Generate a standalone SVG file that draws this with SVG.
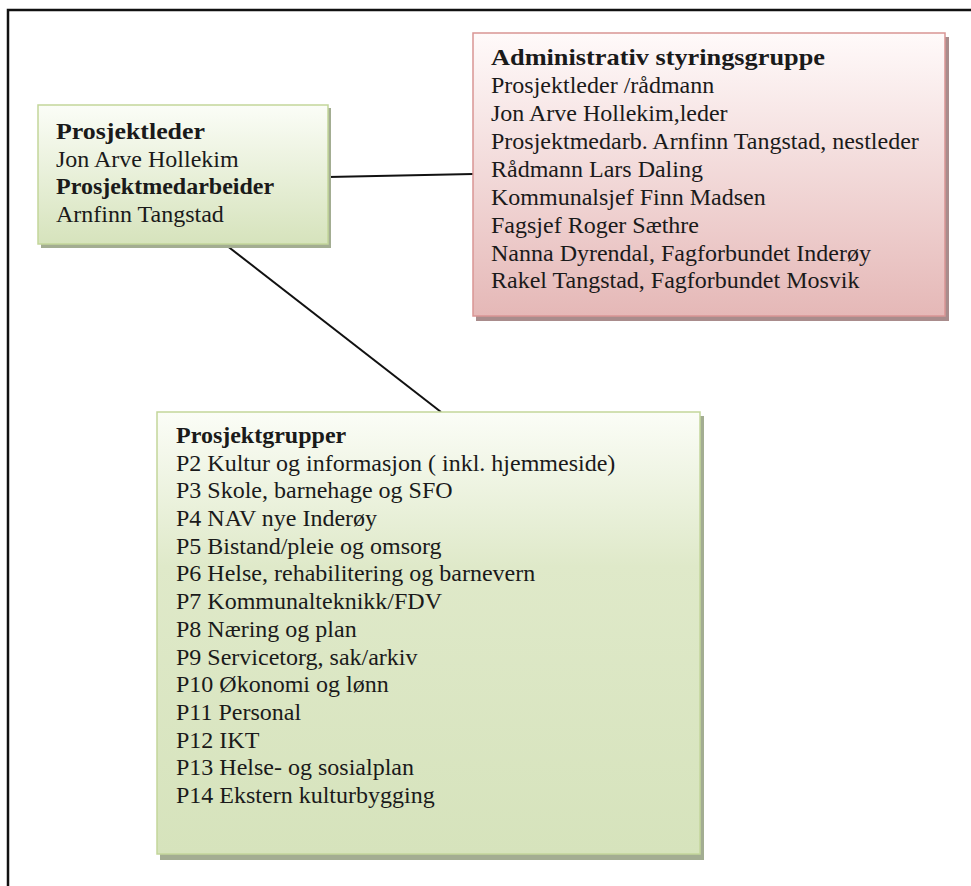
<svg xmlns="http://www.w3.org/2000/svg" width="971" height="886" viewBox="0 0 971 886">
<defs>
<linearGradient id="gGreen" x1="0" y1="0" x2="0" y2="1">
<stop offset="0" stop-color="#fbfdf7"/>
<stop offset="1" stop-color="#d6e3bc"/>
</linearGradient>
<linearGradient id="gGreen2" x1="0" y1="0" x2="0" y2="1">
<stop offset="0" stop-color="#fbfdf7"/>
<stop offset="0.35" stop-color="#dfe9c9"/>
<stop offset="1" stop-color="#d6e3bc"/>
</linearGradient>
<linearGradient id="gRed" x1="0" y1="0" x2="0" y2="1">
<stop offset="0" stop-color="#fffafa"/>
<stop offset="1" stop-color="#e5b8b7"/>
</linearGradient>
</defs>
<style>
text{font-family:"Liberation Serif","Times New Roman",serif;font-size:24px;fill:#1a1a1a}
.b{font-weight:bold}
.frame{stroke:#111;stroke-width:2.5;fill:none}
.conn{stroke:#111;stroke-width:2;fill:none}
.gbox{stroke:#c3d69b;stroke-width:1.5}
.rbox{stroke:#d99594;stroke-width:1.5}
.gsh{fill:#a3ad92}
.rsh{fill:#a98c8c}
</style>
<rect width="971" height="886" fill="#ffffff"/>
<path class="frame" d="M8,886 V10 H971"/>
<g id="connectors">
<line class="conn" x1="226" y1="245" x2="441" y2="412"/>
<line class="conn" x1="328" y1="177" x2="473" y2="174"/>
</g>
<g id="node-prosjektleder">
<rect class="gsh" x="41" y="108" width="290" height="140"/>
<rect class="gbox" x="38" y="105" width="290" height="139" fill="url(#gGreen)"/>
<text x="56" y="139" class="b" textLength="149" lengthAdjust="spacingAndGlyphs">Prosjektleder</text>
<text x="56" y="167">Jon Arve Hollekim</text>
<text x="56" y="194" class="b">Prosjektmedarbeider</text>
<text x="56" y="222">Arnfinn Tangstad</text>
</g>
<g id="node-styringsgruppe">
<rect class="rsh" x="476" y="37" width="473" height="284"/>
<rect class="rbox" x="473" y="33" width="472" height="283" fill="url(#gRed)"/>
<text x="491" y="65" class="b" textLength="334" lengthAdjust="spacingAndGlyphs">Administrativ styringsgruppe</text>
<text x="491" y="93">Prosjektleder /rådmann</text>
<text x="491" y="121">Jon Arve Hollekim,leder</text>
<text x="491" y="149">Prosjektmedarb. Arnfinn Tangstad, nestleder</text>
<text x="491" y="177">Rådmann Lars Daling</text>
<text x="491" y="205">Kommunalsjef  Finn Madsen</text>
<text x="491" y="233">Fagsjef Roger Sæthre</text>
<text x="491" y="261">Nanna Dyrendal, Fagforbundet Inderøy</text>
<text x="491" y="288">Rakel Tangstad, Fagforbundet Mosvik</text>
</g>
<g id="node-prosjektgrupper">
<rect class="gsh" x="160" y="416" width="544" height="444"/>
<rect class="gbox" x="157" y="412" width="543" height="442" fill="url(#gGreen2)"/>
<text x="176" y="443" class="b">Prosjektgrupper</text>
<text x="176" y="471">P2 Kultur og informasjon ( inkl. hjemmeside)</text>
<text x="176" y="498">P3 Skole, barnehage og SFO</text>
<text x="176" y="526">P4 NAV nye Inderøy</text>
<text x="176" y="554">P5 Bistand/pleie og omsorg</text>
<text x="176" y="581">P6 Helse, rehabilitering og barnevern</text>
<text x="176" y="609">P7 Kommunalteknikk/FDV</text>
<text x="176" y="637">P8 Næring og plan</text>
<text x="176" y="665">P9 Servicetorg, sak/arkiv</text>
<text x="176" y="692">P10 Økonomi og lønn</text>
<text x="176" y="720">P11 Personal</text>
<text x="176" y="748">P12 IKT</text>
<text x="176" y="775">P13 Helse- og sosialplan</text>
<text x="176" y="803">P14 Ekstern kulturbygging</text>
</g>
</svg>
